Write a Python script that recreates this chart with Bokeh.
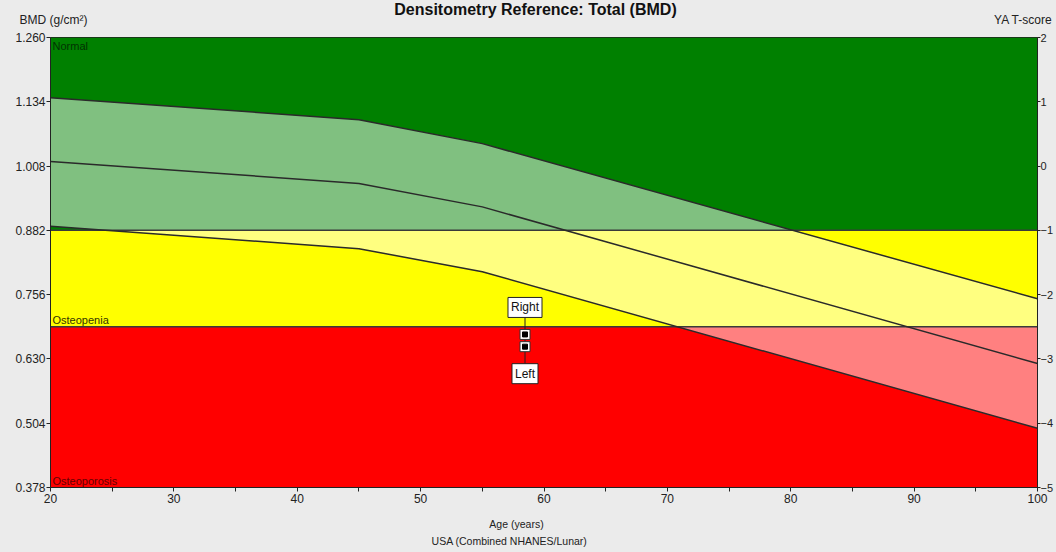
from bokeh.plotting import figure
from bokeh.layouts import column
from bokeh.models import (Range1d, LinearAxis, FixedTicker, Label, PrintfTickFormatter)
from bokeh.embed import file_html
from bokeh.resources import INLINE

# ---------------- data ----------------
ages = [20, 45, 55, 100]
upper_sd = [1.142, 1.099, 1.052, 0.748]
mean_bmd = [1.017, 0.974, 0.928, 0.621]
lower_sd = [0.890, 0.846, 0.801, 0.494]

zone_names = ["Normal", "Osteopenia", "Osteoporosis"]
zone_bottom = [0.882, 0.693, 0.378]
zone_top = [1.260, 0.882, 0.693]
zone_colors = ["#008000", "#ffff00", "#ff0000"]
zone_text_colors = ["#003300", "#333300", "#660000"]

bmd_ticks = [0.378, 0.504, 0.630, 0.756, 0.882, 1.008, 1.134, 1.260]
tscore_ticks = [-5, -4, -3, -2, -1, 0, 1, 2]
age_ticks = [20, 30, 40, 50, 60, 70, 80, 90, 100]
age_minor_ticks = [25, 35, 45, 55, 65, 75, 85, 95]

patient_age = [58.46, 58.46]
patient_bmd = [0.678, 0.654]
patient_side = ["Right", "Left"]

title_text = "Densitometry Reference: Total (BMD)"
y_title = "BMD (g/cm²)"
y2_title = "YA T-score"
x_title = "Age (years)"
x_subtitle = "USA (Combined NHANES/Lunar)"

BG = "#ebebeb"
FONT = "Liberation Sans"
W = 1056
HEAD_H, MAIN_H, FOOT_H = 30, 480, 42


def text_strip(height, y0):
    f = figure(width=W, height=height, output_backend="svg", toolbar_location=None,
               x_range=Range1d(0, W), y_range=Range1d(y0 + height, y0),
               x_axis_type=None, y_axis_type=None, min_border=0, frame_align=False,
               background_fill_color=BG, border_fill_color=BG, outline_line_color=None,
               styles={"background-color": BG})
    f.grid.visible = False
    return f


# ---------------- header ----------------
head = text_strip(HEAD_H, 0)
head.add_layout(Label(x=535, y=0, text=title_text, text_align="center", text_baseline="top",
                      text_font=FONT, text_font_size="16px", text_font_style="bold",
                      text_color="#111111"))
head.add_layout(Label(x=19, y=19, text=y_title, text_align="left", text_baseline="middle",
                      text_font=FONT, text_font_size="12px", text_color="#222222"))
head.add_layout(Label(x=1052, y=19, text=y2_title, text_align="right", text_baseline="middle",
                      text_font=FONT, text_font_size="12px", text_color="#222222"))

# ---------------- main plot ----------------
p = figure(width=W, height=MAIN_H, output_backend="svg", toolbar_location=None,
           x_range=Range1d(20, 100), y_range=Range1d(0.378, 1.260),
           min_border_left=50, min_border_right=16, min_border_top=7, min_border_bottom=23,
           frame_align=False,
           background_fill_color=BG, border_fill_color=BG, styles={"background-color": BG})
p.grid.visible = False
p.outline_line_color = "#222222"
p.outline_line_width = 1

# zones
p.quad(left=20, right=100, bottom=zone_bottom, top=zone_top,
       fill_color=zone_colors, line_color=None)

# reference band (+/- 1 SD): lighter shade of the zone colours
p.varea(x=ages, y1=lower_sd, y2=upper_sd, fill_color="white", fill_alpha=0.5)

# zone boundaries
p.segment(x0=[20, 20], x1=[100, 100], y0=zone_bottom[:2], y1=zone_bottom[:2],
          line_color="#3a3a3a", line_width=1.5)

# curves
for ys in (upper_sd, mean_bmd, lower_sd):
    p.line(ages, ys, line_color="#2a2a2a", line_width=1.5)

# zone labels
p.add_layout(Label(x=20, y=zone_top[0], text=zone_names[0], x_offset=2, y_offset=-2,
                   text_baseline="top", text_font=FONT, text_font_size="11px",
                   text_color=zone_text_colors[0]))
p.add_layout(Label(x=20, y=zone_bottom[1], text=zone_names[1], x_offset=2, y_offset=1,
                   text_baseline="bottom", text_font=FONT, text_font_size="11px",
                   text_color=zone_text_colors[1]))
p.add_layout(Label(x=20, y=zone_bottom[2], text=zone_names[2], x_offset=2, y_offset=1,
                   text_baseline="bottom", text_font=FONT, text_font_size="11px",
                   text_color=zone_text_colors[2]))

# patient measurement
px_per_unit = 450 / (1.260 - 0.378)
lead = 17 / px_per_unit
p.segment(x0=[patient_age[0]], x1=[patient_age[1]],
          y0=[patient_bmd[0] + lead], y1=[patient_bmd[1] - lead],
          line_color="#222222", line_width=1)
p.scatter(patient_age, patient_bmd, marker="square", size=10,
          fill_color="white", line_color="#333333", line_width=1)
p.scatter(patient_age, patient_bmd, marker="square", size=5,
          fill_color="black", line_color="black")
for a, b, s, off, base in zip(patient_age, patient_bmd, patient_side, [17, -17], ["bottom", "top"]):
    p.add_layout(Label(x=a, y=b, text=s, y_offset=off, text_align="center",
                       text_baseline=base, text_font=FONT, text_font_size="12px",
                       text_color="#111111", background_fill_color="white",
                       border_line_color="#222222", border_line_width=1, padding=3))

# axes styling
for ax in (p.xaxis[0], p.yaxis[0]):
    ax.major_label_text_font = FONT
    ax.major_label_text_font_size = "12px"
    ax.major_label_text_color = "#222222"
    ax.axis_line_color = "#222222"
    ax.major_tick_line_color = "#222222"
    ax.minor_tick_line_color = "#222222"
    ax.major_tick_in = 0
    ax.major_tick_out = 4
    ax.minor_tick_in = 0

p.xaxis.ticker = FixedTicker(ticks=age_ticks, minor_ticks=age_minor_ticks)
p.xaxis.minor_tick_out = 4
p.xaxis.major_label_standoff = 2

p.yaxis.ticker = FixedTicker(ticks=bmd_ticks, minor_ticks=[])
p.yaxis.formatter = PrintfTickFormatter(format="%.3f")
p.yaxis.major_label_standoff = 1
p.yaxis.minor_tick_out = 0

p.extra_y_ranges = {"tscore": Range1d(-5, 2)}
rax = LinearAxis(y_range_name="tscore", ticker=FixedTicker(ticks=tscore_ticks, minor_ticks=[]),
                 major_label_text_font=FONT, major_label_text_font_size="11px",
                 major_label_text_color="#222222", axis_line_color="#222222",
                 major_tick_line_color="#222222", major_tick_in=0, major_tick_out=3,
                 minor_tick_out=0, major_label_standoff=0, axis_label_standoff=0)
p.add_layout(rax, "right")

# ---------------- footer ----------------
foot = text_strip(FOOT_H, HEAD_H + MAIN_H)
foot.add_layout(Label(x=516, y=523, text=x_title, text_align="center", text_baseline="middle",
                      text_font=FONT, text_font_size="10.5px", text_color="#222222"))
foot.add_layout(Label(x=509, y=540, text=x_subtitle, text_align="center", text_baseline="middle",
                      text_font=FONT, text_font_size="10.5px", text_color="#222222"))

layout = column(head, p, foot, spacing=0, styles={"background-color": BG})
open("out.html", "w").write(file_html(layout, INLINE))
